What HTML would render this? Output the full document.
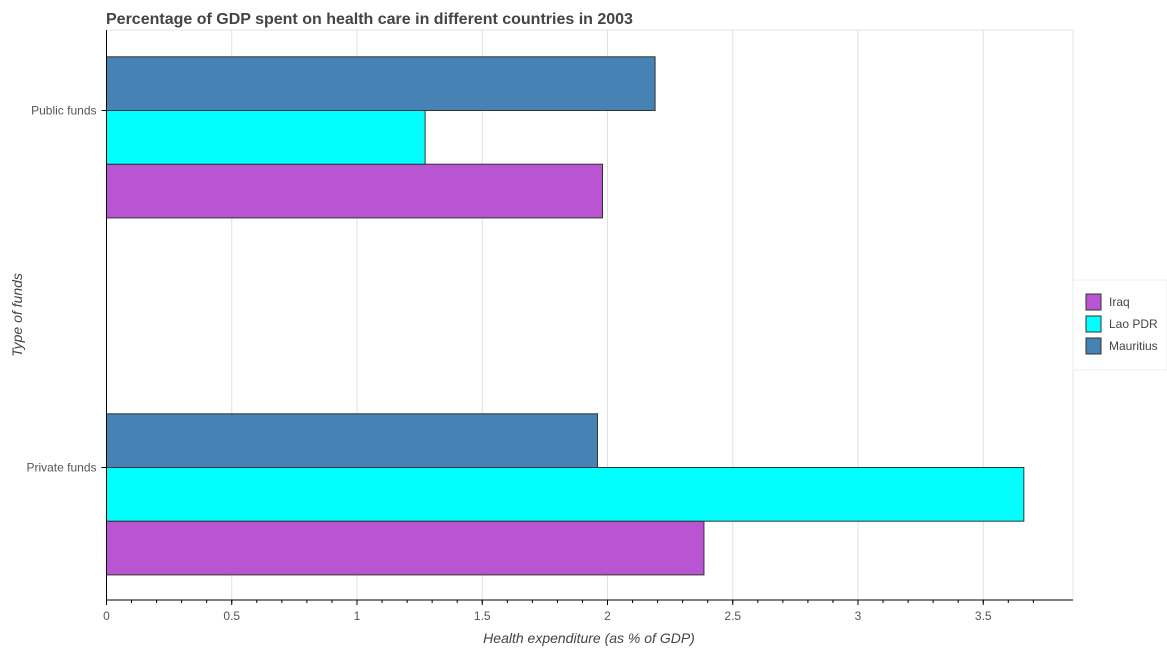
<!DOCTYPE html>
<html><head><meta charset="utf-8"><style>
body{margin:0;background:#fff;font-family:"Liberation Sans",sans-serif;}
svg text{font-family:"Liberation Sans",sans-serif;}
</style></head><body>
<svg width="1167" height="650" xmlns="http://www.w3.org/2000/svg" id="chart">
<text x="106" y="24" font-size="16" font-weight="bold" fill="#444">Percentage of GDP spent on health care in different countries in 2003</text>
<g id="grid"></g>
<g id="bars"></g>
<g id="axes"></g>
<text x="589" y="643" font-size="14" font-style="italic" fill="#444" text-anchor="middle">Health expenditure (as % of GDP)</text>
<text transform="translate(22,315) rotate(-90)" font-size="14" font-style="italic" fill="#444" text-anchor="middle">Type of funds</text>
<g id="legend">
<rect x="1073" y="280" width="94" height="90" fill="#fff" stroke="#eee"/>
</g>
</svg>
<script>
const categories=["Public funds","Private funds"];
const series=["Iraq","Lao PDR","Mauritius"];
const colors=["#b955d3","#00ffff","#4682b4"];
const iraq=[1.98,2.385];
const lao=[1.272,3.662];
const mauritius=[2.19,1.96];
const xTicks=[0,0.5,1,1.5,2,2.5,3,3.5];
const xTickLabels=["0","0.5","1","1.5","2","2.5","3","3.5"];
const values=[iraq,lao,mauritius];
const ns="http://www.w3.org/2000/svg";
const L=106.5,R=1073,T=30,B=600;
const xs=v=>L+v*250.5;
const centers=[110.5,467.5];
const bh=53.7;
function mk(tag,attrs,parent){const e=document.createElementNS(ns,tag);for(const k in attrs)e.setAttribute(k,attrs[k]);document.getElementById(parent).appendChild(e);return e;}
const g1=mk("rect",{x:L,y:T,width:R-L,height:B-T,fill:"none",stroke:"#e6e6e6"},"grid");
for(let i=0;i<xTicks.length;i++){
 const l=mk("line",{x1:xs(xTicks[i]),x2:xs(xTicks[i]),y1:T,y2:B,stroke:"#e0e0e0"},"grid");
 
 
 const t=mk("text",{x:xs(xTicks[i]),y:B+20,"font-size":12,fill:"#555","text-anchor":"middle"},"axes");
 t.textContent=xTickLabels[i];
 
 
 const tk=mk("line",{x1:xs(xTicks[i]),x2:xs(xTicks[i]),y1:B,y2:B+5,stroke:"#000"},"axes");
 
 
}
for(let v=0.1;v<3.8;v+=0.1){
 const tk=mk("line",{x1:xs(v),x2:xs(v),y1:B,y2:B+3,stroke:"#000"},"axes");
 
 
}
for(let c=0;c<categories.length;c++){
 for(let s=0;s<series.length;s++){
  const yy=centers[c]+bh*(1-s);
  const r=mk("rect",{x:L,y:yy,width:xs(values[s][c])-L,height:bh,fill:colors[s],stroke:"#333","stroke-width":1},"bars");
  
  
 }
 const t=mk("text",{x:L-10,y:centers[c]+4,"font-size":12,fill:"#555","text-anchor":"end"},"axes");
 t.textContent=categories[c];
 
 
 const tk=mk("line",{x1:L-5,x2:L,y1:centers[c],y2:centers[c],stroke:"#000"},"axes");
 
 
}
const ax=mk("line",{x1:L,x2:L,y1:T,y2:B,stroke:"#000"},"axes");


const axx=mk("line",{x1:L,x2:R,y1:B,y2:B,stroke:"#000"},"axes");


for(let s=0;s<series.length;s++){
 const y=302+22*s;
 const r=mk("rect",{x:1086,y:y-8,width:15,height:16,fill:colors[s],stroke:"#333"},"legend");
 
 
 const t=mk("text",{x:1109,y:y+4,"font-size":12,fill:"#444"},"legend");
 t.textContent=series[s];
 
 
}
</script>
</body></html>
